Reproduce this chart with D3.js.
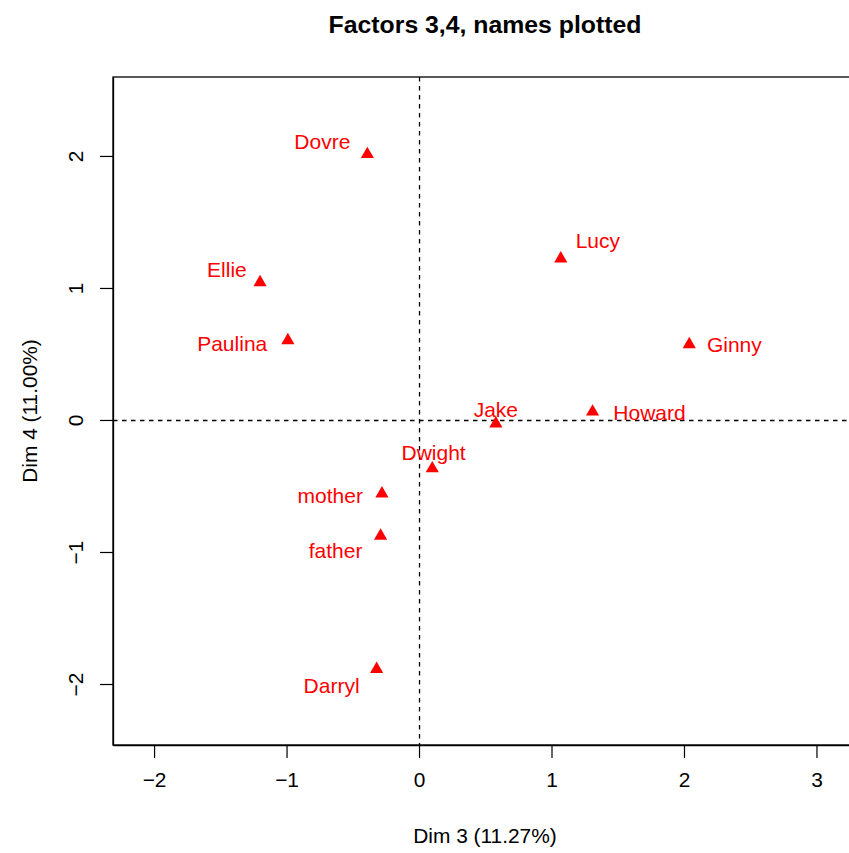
<!DOCTYPE html>
<html>
<head>
<meta charset="utf-8">
<script src="https://cdn.jsdelivr.net/npm/d3@7"></script>
<style>
  body { margin: 0; background: #fff; }
  svg { display: block; }
  text { font-family: "Liberation Sans", Arial, Helvetica, sans-serif; }
</style>
</head>
<body>
<svg id="chart" width="849" height="853"></svg>
<script>
// ---- data ----
const names  = ["Dovre", "Lucy", "Ellie", "Paulina", "Ginny", "Howard", "Jake", "Dwight", "mother", "father", "Darryl"];
const dim3   = [-0.39, 1.07, -1.20, -0.99, 2.04, 1.31, 0.58, 0.10, -0.28, -0.29, -0.32];
const dim4   = [2.02, 1.23, 1.05, 0.61, 0.58, 0.07, -0.02, -0.36, -0.55, -0.87, -1.88];
// label anchor positions (data units, after repel)
const labelX = [-0.73, 1.35, -1.45, -1.41, 2.38, 1.74, 0.58, 0.11, -0.67, -0.63, -0.66];
const labelY = [2.11, 1.36, 1.14, 0.58, 0.57, 0.06, 0.08, -0.25, -0.57, -0.99, -2.01];
const xTicks = [-2, -1, 0, 1, 2, 3];
const yTicks = [-2, -1, 0, 1, 2];
const titleText = "Factors 3,4, names plotted";
const xTitle = "Dim 3 (11.27%)";
const yTitle = "Dim 4 (11.00%)";

// ---- layout ----
const L = 113, R = 857, T = 77, B = 745;
const svg = d3.select("#chart");
const x = d3.scaleLinear().domain([-2.31, 3.306]).range([L, R]);
const y = d3.scaleLinear().domain([-2.462, 2.598]).range([B, T]);
const fmt = d => (d < 0 ? "\u2212" + Math.abs(d) : String(d));

// reference lines
svg.append("line").attr("x1", L).attr("x2", R).attr("y1", y(0) + 0.5).attr("y2", y(0) + 0.5)
  .attr("stroke", "#000").attr("stroke-width", 1.3).attr("stroke-dasharray", "4.5,4.5");
svg.append("line").attr("x1", x(0) + 0.5).attr("x2", x(0) + 0.5).attr("y1", T).attr("y2", B)
  .attr("stroke", "#000").attr("stroke-width", 1.3).attr("stroke-dasharray", "4.5,4.5");

// box
svg.append("rect").attr("x", L).attr("y", T).attr("width", R - L).attr("height", B - T)
  .attr("fill", "none").attr("stroke", "#000").attr("stroke-width", 1.3);

// axes
const xAxis = svg.append("g").attr("transform", `translate(0,${B})`)
  .call(d3.axisBottom(x).tickValues(xTicks).tickFormat(fmt).tickSize(13).tickPadding(20).tickSizeOuter(0));
const yAxis = svg.append("g").attr("transform", `translate(${L},0)`)
  .call(d3.axisLeft(y).tickValues(yTicks).tickFormat(fmt).tickSize(13).tickSizeOuter(0));
[xAxis, yAxis].forEach(g => {
  g.selectAll("path.domain").attr("stroke", "#000").attr("stroke-width", 1.3);
  g.selectAll(".tick line").attr("stroke", "#000").attr("stroke-width", 1.2);
  g.selectAll(".tick text").attr("fill", "#000").style("font-size", "20.9px")
    .style("font-family", '"Liberation Sans", Arial, sans-serif');
});
xAxis.selectAll(".tick text").attr("dy", "0.71em").attr("y", 27);
yAxis.selectAll(".tick text")
  .attr("x", null).attr("dy", null)
  .attr("text-anchor", "middle")
  .attr("transform", d => `translate(${-38},0) rotate(-90)`)
  .attr("dominant-baseline", "central");

// points
const tri = d3.symbol().type(d3.symbolTriangle).size(75);
const idx = d3.range(names.length);
svg.append("g").selectAll("path").data(idx).join("path")
  .attr("d", tri)
  .attr("transform", i => `translate(${x(dim3[i])},${y(dim4[i]) + 1})`)
  .attr("fill", "#ff0000");

// labels
svg.append("g").selectAll("text").data(idx).join("text")
  .attr("x", i => x(labelX[i])).attr("y", i => y(labelY[i]))
  .attr("text-anchor", "middle").attr("dominant-baseline", "central")
  .attr("fill", "#ff0000").style("font-size", "21px")
  .text(i => names[i]);

// titles
svg.append("text").attr("x", (L + R) / 2).attr("y", 33).attr("text-anchor", "middle")
  .style("font-size", "24.8px").style("font-weight", "bold").attr("fill", "#000").text(titleText);
svg.append("text").attr("x", (L + R) / 2).attr("y", 843).attr("text-anchor", "middle")
  .style("font-size", "20.9px").attr("fill", "#000").text(xTitle);
svg.append("text").attr("transform", `translate(37,${(T + B) / 2}) rotate(-90)`).attr("text-anchor", "middle")
  .style("font-size", "20.9px").attr("fill", "#000").text(yTitle);
</script>
</body>
</html>
